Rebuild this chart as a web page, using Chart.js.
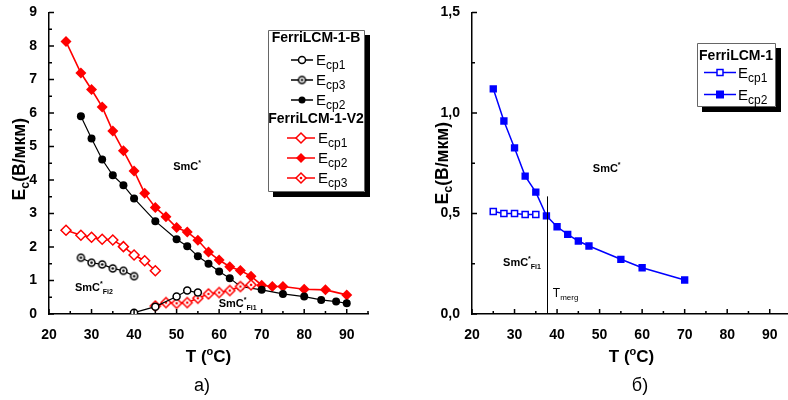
<!DOCTYPE html>
<html><head><meta charset="utf-8">
<script src="https://cdn.jsdelivr.net/npm/chart.js@4/dist/chart.umd.min.js"></script>
<style>
html,body{margin:0;padding:0;background:#fff;overflow:hidden;width:788px;height:400px;}
#c1{position:absolute;left:0;top:0;}
#c2{position:absolute;left:400px;top:0;}
</style></head><body>
<canvas id="c1" width="400" height="400"></canvas>
<canvas id="c2" width="400" height="400"></canvas>
<script>
// ---------- Panel а) ----------
const tB_cp1 = [40, 45, 50, 52.5, 55];
const eB_cp1 = [0.04, 0.22, 0.52, 0.70, 0.64];
const tB_cp3 = [27.5, 30, 32.5, 35, 37.5, 40];
const eB_cp3 = [1.68, 1.53, 1.48, 1.36, 1.29, 1.13];
const tB_cp2 = [27.5, 30, 32.5, 35, 37.5, 40, 45, 50, 52.5, 55, 57.5, 60, 62.5, 65, 70, 75, 80, 84, 87.5, 90];
const eB_cp2 = [5.90, 5.24, 4.61, 4.14, 3.84, 3.45, 2.77, 2.23, 2.02, 1.72, 1.50, 1.27, 1.07, 0.82, 0.72, 0.60, 0.52, 0.42, 0.37, 0.32];
const tV_cp1 = [24, 27.5, 30, 32.5, 35, 37.5, 40, 42.5, 45];
const eV_cp1 = [2.50, 2.35, 2.29, 2.23, 2.21, 2.01, 1.76, 1.59, 1.29];
const tV_cp2 = [24, 27.5, 30, 32.5, 35, 37.5, 40, 42.5, 45, 47.5, 50, 52.5, 55, 57.5, 60, 62.5, 65, 67.5, 70, 72.5, 75, 80, 85, 90];
const eV_cp2 = [8.13, 7.19, 6.70, 6.18, 5.46, 4.87, 4.27, 3.60, 3.18, 2.90, 2.58, 2.45, 2.20, 1.85, 1.61, 1.41, 1.30, 1.13, 0.86, 0.82, 0.82, 0.74, 0.72, 0.57];
const tV_cp3 = [45, 47.5, 50, 52.5, 55, 57.5, 60, 62.5, 65, 67.5];
const eV_cp3 = [0.24, 0.34, 0.32, 0.34, 0.47, 0.60, 0.64, 0.70, 0.82, 0.87];

// ---------- Panel б) ----------
const tR_cp1 = [25, 27.5, 30, 32.5, 35];
const eR_cp1 = [0.51, 0.50, 0.50, 0.495, 0.495];
const tR_cp2 = [25, 27.5, 30, 32.5, 35, 37.5, 40, 42.5, 45, 47.5, 55, 60, 70];
const eR_cp2 = [1.12, 0.96, 0.826, 0.686, 0.606, 0.488, 0.434, 0.396, 0.363, 0.338, 0.272, 0.230, 0.169];
const tMerg = 37.7;

// ---------- Ticks ----------
const xTicks = [20, 30, 40, 50, 60, 70, 80, 90];
const xMinor = [25, 35, 45, 55, 65, 75, 85, 95];
const yTicksL = [0, 1, 2, 3, 4, 5, 6, 7, 8, 9];
const yMinorL = [0.5, 1.5, 2.5, 3.5, 4.5, 5.5, 6.5, 7.5, 8.5];
const yTicksR = [0, 0.5, 1.0, 1.5];
const yMinorR = [0.25, 0.75, 1.25];

const FF = 'Arial, "Liberation Sans", sans-serif';
const pts = (xs, ys) => xs.map((x, i) => ({x: x, y: ys[i]}));

function markerImg(shape, color, r, dot) {
  const s = Math.ceil(2 * r + 4);
  const c = document.createElement('canvas'); c.width = s; c.height = s;
  const g = c.getContext('2d'); const m = s / 2;
  g.lineWidth = 1.5; g.strokeStyle = color; g.fillStyle = '#fff';
  g.beginPath();
  if (shape === 'circle') g.arc(m, m, r, 0, 2 * Math.PI);
  else { g.moveTo(m - r, m); g.lineTo(m, m - r); g.lineTo(m + r, m); g.lineTo(m, m + r); g.closePath(); }
  g.fill(); g.stroke();
  if (dot) { g.fillStyle = color; g.beginPath(); g.arc(m, m, 1.3, 0, 2 * Math.PI); g.fill(); }
  return c;
}
const imgCircleDot = markerImg('circle', '#000', 3.5, true);
const imgDiamondDot = markerImg('diamond', '#ff0000', 5, true);

function rich(ctx, parts, x, y, align) {
  let w = 0;
  for (const p of parts) { ctx.font = p[1]; w += ctx.measureText(p[0]).width; }
  let cx = align === 'center' ? x - w / 2 : (align === 'right' ? x - w : x);
  ctx.textAlign = 'left'; ctx.textBaseline = 'alphabetic';
  for (const p of parts) { ctx.font = p[1]; ctx.fillText(p[0], cx, y + (p[2] || 0)); cx += ctx.measureText(p[0]).width; }
  return w;
}

function drawMarker(ctx, type, x, y, color) {
  ctx.save(); ctx.strokeStyle = color; ctx.fillStyle = color; ctx.lineWidth = 1.5;
  if (type === 'circleDot') { ctx.drawImage(imgCircleDot, x - imgCircleDot.width / 2, y - imgCircleDot.height / 2); }
  else if (type === 'diamondDot') { ctx.drawImage(imgDiamondDot, x - imgDiamondDot.width / 2, y - imgDiamondDot.height / 2); }
  else {
    ctx.beginPath();
    const open = type.endsWith('Open');
    if (type.startsWith('circle')) ctx.arc(x, y, 3.5, 0, 2 * Math.PI);
    else if (type.startsWith('diamond')) { const r = 5; ctx.moveTo(x - r, y); ctx.lineTo(x, y - r); ctx.lineTo(x + r, y); ctx.lineTo(x, y + r); ctx.closePath(); }
    else { const r = open ? 3 : 4; ctx.rect(x - r, y - r, 2 * r, 2 * r); }
    if (open) { ctx.fillStyle = '#fff'; ctx.fill(); ctx.stroke(); } else { ctx.fill(); }
  }
  ctx.restore();
}

function legendEntry(ctx, y, x1, x2, type, color, sub, tx) {
  ctx.save(); ctx.strokeStyle = color; ctx.lineWidth = 1.5;
  ctx.beginPath(); ctx.moveTo(x1, y); ctx.lineTo(x2, y); ctx.stroke(); ctx.restore();
  drawMarker(ctx, type, (x1 + x2) / 2, y, color);
  ctx.save(); ctx.fillStyle = '#000';
  rich(ctx, [['E', '15px ' + FF, 0], [sub, '12px ' + FF, 4]], tx, y + 5, 'left');
  ctx.restore();
}

function legendBox(ctx, x, y, w, h) {
  ctx.save();
  ctx.beginPath(); ctx.rect(x, y, w, h); ctx.fillStyle = '#ffffff'; ctx.fill();
  ctx.strokeStyle = '#666666'; ctx.lineWidth = 1;
  ctx.beginPath(); ctx.rect(x + 0.5, y + 0.5, w, h); ctx.stroke();
  ctx.restore();
}

function legendShadow(ctx, x, y, w, h) {
  ctx.save();
  ctx.fillStyle = 'rgb(0,0,0)';
  ctx.beginPath();
  ctx.rect(x + w + 1, y + 5, 5, h + 1);
  ctx.rect(x + 5, y + h + 1, w - 4, 5);
  ctx.fill();
  ctx.restore();
}

function drawTicks(chart, xMaj, xMin, yMaj, yMin) {
  const {ctx, scales: {x, y}, chartArea: a} = chart;
  ctx.save(); ctx.strokeStyle = '#000'; ctx.lineWidth = 1.5;
  ctx.beginPath();
  for (const v of xMaj) { const p = x.getPixelForValue(v); ctx.moveTo(p, a.bottom); ctx.lineTo(p, a.bottom - 5); }
  for (const v of xMin) { const p = x.getPixelForValue(v); ctx.moveTo(p, a.bottom); ctx.lineTo(p, a.bottom - 3); }
  for (const v of yMaj) { const p = y.getPixelForValue(v); ctx.moveTo(a.left, p); ctx.lineTo(a.left + 5, p); }
  for (const v of yMin) { const p = y.getPixelForValue(v); ctx.moveTo(a.left, p); ctx.lineTo(a.left + 3, p); }
  ctx.stroke(); ctx.restore();
}

function smcLabel(ctx, x, y, sub) {
  const parts = [['SmC', 'bold 11px ' + FF, 0], ['*', 'bold 7px ' + FF, -5]];
  if (sub) parts.push([sub, 'bold 7px ' + FF, 3]);
  ctx.save(); ctx.fillStyle = '#000';
  rich(ctx, parts, x, y, 'left');
  ctx.restore();
}

function axisTitles(ctx, chart, yTitleX, dy) {
  const a = chart.chartArea; const cx = (a.left + a.right) / 2; const cy = (a.top + a.bottom) / 2;
  ctx.save(); ctx.fillStyle = '#000';
  rich(ctx, [['T (', 'bold 17px ' + FF, 0], ['o', 'bold 11px ' + FF, -7], ['C)', 'bold 17px ' + FF, 0]], cx, 362, 'center');
  ctx.translate(yTitleX, cy + dy); ctx.rotate(-Math.PI / 2);
  rich(ctx, [['E', 'bold 17.5px ' + FF, 0], ['c', 'bold 12.5px ' + FF, 4], ['(В/мкм)', 'bold 17.5px ' + FF, 0]], 0, 6.5, 'center');
  ctx.restore();
}

const decorL = {
  id: 'decorL',
  afterDraw(chart) {
    const ctx = chart.ctx; const {x, y} = chart.scales;
    drawTicks(chart, xTicks, xMinor, yTicksL, yMinorL);
    axisTitles(ctx, chart, 18, -4);
    ctx.save(); ctx.fillStyle = '#000'; ctx.font = '18px ' + FF; ctx.textAlign = 'center'; ctx.textBaseline = 'middle';
    ctx.fillText('а)', 202, 386); ctx.restore();
    smcLabel(ctx, x.getPixelForValue(49.2), y.getPixelForValue(4.3), null);
    smcLabel(ctx, x.getPixelForValue(26.1), y.getPixelForValue(0.7), 'Fi2');
    smcLabel(ctx, x.getPixelForValue(59.9), y.getPixelForValue(0.2), 'Fi1');
    // legend
    legendBox(ctx, 268, 30, 96, 161);
    ctx.save();
    ctx.fillStyle = '#000'; ctx.font = 'bold 14px ' + FF; ctx.textAlign = 'center'; ctx.textBaseline = 'middle';
    ctx.fillText('FerriLCM-1-B', 316, 38);
    ctx.fillText('FerriLCM-1-V2', 316, 119);
    ctx.restore();
    legendEntry(ctx, 60, 291, 313, 'circleOpen', '#000', 'cp1', 316);
    legendEntry(ctx, 80, 291, 313, 'circleDot', '#000', 'cp3', 316);
    legendEntry(ctx, 100, 291, 313, 'circleFill', '#000', 'cp2', 316);
    legendEntry(ctx, 138, 287, 315, 'diamondOpen', '#ff0000', 'cp1', 318);
    legendEntry(ctx, 158, 287, 315, 'diamondFill', '#ff0000', 'cp2', 318);
    legendEntry(ctx, 178, 287, 315, 'diamondDot', '#ff0000', 'cp3', 318);
    legendShadow(ctx, 268, 30, 96, 161);
  }
};

const decorR = {
  id: 'decorR',
  afterDraw(chart) {
    const ctx = chart.ctx; const {x, y} = chart.scales;
    drawTicks(chart, xTicks, xMinor, yTicksR, yMinorR);
    axisTitles(ctx, chart, 41, 0);
    ctx.save(); ctx.fillStyle = '#000'; ctx.font = '18px ' + FF; ctx.textAlign = 'center'; ctx.textBaseline = 'middle';
    ctx.fillText('б)', 240, 386); ctx.restore();
    // T merg vertical line
    ctx.save(); ctx.strokeStyle = '#000'; ctx.lineWidth = 1;
    const px = Math.round(x.getPixelForValue(tMerg)) + 0.5;
    ctx.beginPath(); ctx.moveTo(px, y.getPixelForValue(0.585)); ctx.lineTo(px, y.getPixelForValue(0)); ctx.stroke(); ctx.restore();
    smcLabel(ctx, x.getPixelForValue(48.4), y.getPixelForValue(0.705), null);
    smcLabel(ctx, x.getPixelForValue(27.3), y.getPixelForValue(0.24), 'Fi1');
    ctx.save(); ctx.fillStyle = '#000';
    rich(ctx, [['T', '12px ' + FF, 0], ['merg', '8px ' + FF, 3]], x.getPixelForValue(39.0), y.getPixelForValue(0.083), 'left');
    ctx.restore();
    // legend
    legendBox(ctx, 297, 43, 78, 63);
    ctx.save();
    ctx.fillStyle = '#000'; ctx.font = 'bold 14px ' + FF; ctx.textAlign = 'center'; ctx.textBaseline = 'middle';
    ctx.fillText('FerriLCM-1', 336, 56);
    ctx.restore();
    legendEntry(ctx, 72.5, 304, 336, 'squareOpen', '#0000ff', 'cp1', 338);
    legendEntry(ctx, 94.5, 304, 336, 'squareFill', '#0000ff', 'cp2', 338);
    legendShadow(ctx, 297, 43, 78, 63);
  }
};

function scalesCfg(yMin, yMax, yTicks, yWidth, fmt) {
  const tickFont = {family: FF, size: 14, weight: 'bold'};
  return {
    x: {
      type: 'linear', min: 20, max: 95,
      afterBuildTicks: s => { s.ticks = xTicks.map(v => ({value: v})); },
      afterFit: s => { s.height = 86; },
      grid: {display: false}, border: {display: true, color: '#000', width: 1.5},
      ticks: {font: tickFont, color: '#000', padding: 5, maxRotation: 0, autoSkip: false}
    },
    y: {
      type: 'linear', min: yMin, max: yMax,
      afterBuildTicks: s => { s.ticks = yTicks.map(v => ({value: v})); },
      afterFit: s => { s.width = yWidth; },
      grid: {display: false}, border: {display: true, color: '#000', width: 1.5},
      ticks: {font: tickFont, color: '#000', padding: 4, autoSkip: false, callback: fmt}
    }
  };
}

const common = {
  responsive: false, animation: false, events: [],
  plugins: {legend: {display: false}, tooltip: {enabled: false}}
};

new Chart(document.getElementById('c1'), {
  type: 'line',
  data: {
    datasets: [
      {data: pts(tB_cp1, eB_cp1), borderColor: '#000', borderWidth: 1.2, pointStyle: 'circle', pointRadius: 3.5, pointBorderWidth: 1.5, pointBackgroundColor: '#fff', pointBorderColor: '#000'},
      {data: pts(tB_cp3, eB_cp3), borderColor: '#000', borderWidth: 1.2, pointStyle: imgCircleDot},
      {data: pts(tV_cp3, eV_cp3), borderColor: '#ff0000', borderWidth: 1.5, pointStyle: imgDiamondDot},
      {data: pts(tB_cp2, eB_cp2), borderColor: '#000', borderWidth: 1.2, pointStyle: 'circle', pointRadius: 4, pointBorderWidth: 0, pointBackgroundColor: '#000'},
      {data: pts(tV_cp1, eV_cp1), borderColor: '#ff0000', borderWidth: 1.5, pointStyle: 'rectRot', pointRadius: 5, pointBorderWidth: 1.5, pointBackgroundColor: '#fff', pointBorderColor: '#ff0000'},
      {data: pts(tV_cp2, eV_cp2), borderColor: '#ff0000', borderWidth: 1.6, pointStyle: 'rectRot', pointRadius: 5.5, pointBorderWidth: 0, pointBackgroundColor: '#ff0000'}
    ]
  },
  options: Object.assign({}, common, {
    layout: {padding: {top: 12, right: 32, left: 0, bottom: 0}},
    scales: scalesCfg(0, 9, yTicksL, 49, v => String(v))
  }),
  plugins: [decorL]
});

new Chart(document.getElementById('c2'), {
  type: 'line',
  data: {
    datasets: [
      {data: pts(tR_cp1, eR_cp1), borderColor: '#0000ff', borderWidth: 1.5, pointStyle: 'rect', pointRadius: 4.3, pointBorderWidth: 1.5, pointBackgroundColor: '#fff', pointBorderColor: '#0000ff'},
      {data: pts(tR_cp2, eR_cp2), borderColor: '#0000ff', borderWidth: 1.5, pointStyle: 'rect', pointRadius: 5.2, pointBorderWidth: 0, pointBackgroundColor: '#0000ff'}
    ]
  },
  options: Object.assign({}, common, {
    layout: {padding: {top: 12, right: 9, left: 0, bottom: 0}},
    scales: scalesCfg(0, 1.5, yTicksR, 72, v => v.toFixed(1).replace('.', ','))
  }),
  plugins: [decorR]
});
</script>
</body></html>
